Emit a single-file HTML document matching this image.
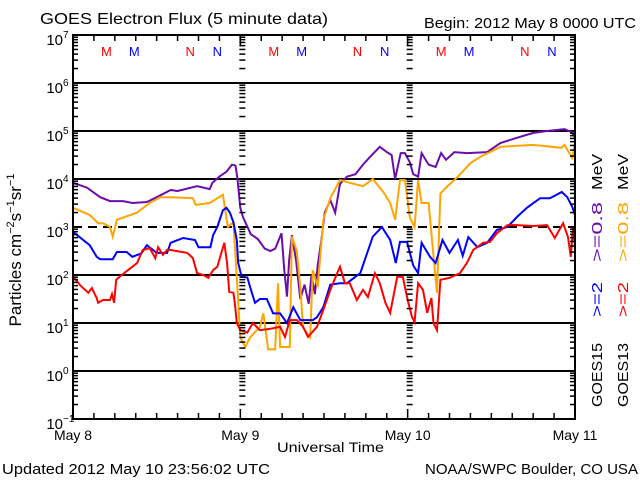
<!DOCTYPE html>
<html><head><meta charset="utf-8">
<style>
html,body{margin:0;padding:0;background:#fff;}
svg{display:block;font-family:"Liberation Sans","DejaVu Sans",sans-serif;}
</style></head>
<body>
<svg id="chart" width="640" height="480" viewBox="0 0 640 480" xmlns="http://www.w3.org/2000/svg">
<rect width="640" height="480" fill="#fff"/>
<text x="40" y="24" font-size="16" textLength="288" lengthAdjust="spacingAndGlyphs">GOES Electron Flux (5 minute data)</text>
<text x="424" y="28" font-size="15" textLength="212" lengthAdjust="spacingAndGlyphs">Begin: 2012 May 8 0000 UTC</text>
<text x="2" y="474" font-size="15" textLength="268" lengthAdjust="spacingAndGlyphs">Updated 2012 May 10 23:56:02 UTC</text>
<text x="425" y="474" font-size="15" textLength="213" lengthAdjust="spacingAndGlyphs">NOAA/SWPC Boulder, CO USA</text>
<text x="277" y="452" font-size="14" textLength="107" lengthAdjust="spacingAndGlyphs">Universal Time</text>
<text transform="translate(21,250) rotate(-90)" text-anchor="middle" font-size="17">Particles cm<tspan font-size="11" dy="-7">−2</tspan><tspan dy="7">s</tspan><tspan font-size="11" dy="-7">−1</tspan><tspan dy="7">sr</tspan><tspan font-size="11" dy="-7">−1</tspan></text>
<g id="legend" font-size="15">
  <text transform="translate(602,407) rotate(-90)" textLength="64" lengthAdjust="spacingAndGlyphs">GOES15</text>
  <text transform="translate(602,317) rotate(-90)" fill="#0000ff" textLength="35" lengthAdjust="spacingAndGlyphs">&gt;=2</text>
  <text transform="translate(602,262) rotate(-90)" fill="#6a0dad" textLength="60" lengthAdjust="spacingAndGlyphs">&gt;=0.8</text>
  <text transform="translate(602,190) rotate(-90)" textLength="36" lengthAdjust="spacingAndGlyphs">MeV</text>
  <text transform="translate(628,407) rotate(-90)" textLength="64" lengthAdjust="spacingAndGlyphs">GOES13</text>
  <text transform="translate(628,317) rotate(-90)" fill="#ff0000" textLength="35" lengthAdjust="spacingAndGlyphs">&gt;=2</text>
  <text transform="translate(628,262) rotate(-90)" fill="#ffa500" textLength="60" lengthAdjust="spacingAndGlyphs">&gt;=0.8</text>
  <text transform="translate(628,190) rotate(-90)" textLength="36" lengthAdjust="spacingAndGlyphs">MeV</text>
</g>
<g id="grid"></g>
<g id="series"></g>
<g id="axes"></g>
</svg>
<script>
// Data (hours since May 8 00:00 UTC, log10 flux)
const dayLabels = ["May 8","May 9","May 10","May 11"];
const yExponents = [7,6,5,4,3,2,1,0,-1];
const markerHours = [4.8,8.8,16.8,20.7];
const markerLetters = ["M","M","N","N"];
const markerColors = ["#ff0000","#0000ff","#ff0000","#0000ff"];

const purpleHours = [0,2,3.9,5.3,7.2,8.5,10.6,12,14,15,17.8,19.6,20,21,22,22.8,23.3,23.6,24,24.4,25.5,26.5,27.5,28.3,29,29.9,30.3,30.7,31,31.4,32,32.6,33.2,33.8,34.2,34.7,35.1,35.6,36.1,36.9,37.6,38.3,39.3,40.5,41.6,42.6,44,45,45.7,46.2,47,47.6,48.3,48.8,49.5,50,51,52,52.8,53.5,54.7,56.5,59.4,61.3,63.5,66,68,70.5,71.5,72];
const purpleLog = [3.92,3.82,3.62,3.54,3.54,3.5,3.52,3.62,3.77,3.75,3.85,3.79,3.92,4.05,4.15,4.3,4.28,4.0,3.4,3.2,2.85,2.75,2.55,2.5,2.55,2.87,2.1,1.55,2.3,2.83,2.3,1.5,1.8,1.4,2.0,1.6,2.2,2.7,3.3,3.56,3.3,3.9,4.05,4.1,4.3,4.46,4.67,4.56,4.5,4.0,4.54,4.54,4.35,4.1,4.05,4.54,4.3,4.25,4.54,4.4,4.56,4.54,4.56,4.75,4.85,4.96,5.0,5.04,4.98,4.87];

const orangeHours = [0,2.4,3.6,4.3,5.3,5.7,6.3,9.2,11,12.5,14,17.2,17.6,19.6,21.5,22.2,23,23.5,24,24.7,25.4,26.8,27.3,28,29,29.4,29.7,31.1,31.4,32.1,32.6,33,34,34.4,35.1,35.9,36.9,38.3,39.7,41.6,43,44.5,45.5,46.2,46.9,47.6,48.3,49,49.5,50,51,51.7,52.2,52.7,53.7,55,57,58.4,61.3,66,70,70.5,71.6,72];
const orangeLog = [3.4,3.25,3.08,3.08,3.0,2.8,3.15,3.3,3.5,3.62,3.62,3.6,3.46,3.5,3.67,3.0,3.1,1.96,0.7,0.5,0.7,0.92,1.2,0.45,0.45,1.83,0.5,0.5,2.8,2.5,1.75,0.9,0.7,2.1,1.75,3.15,3.6,3.98,3.92,3.85,4.0,3.73,3.5,3.15,3.98,3.98,3.2,3.0,3.98,3.5,3.5,2.4,1.63,3.7,3.85,4.02,4.33,4.46,4.67,4.71,4.65,4.71,4.44,4.75];

const blueHours = [0,2.4,3.4,3.9,5.7,6.3,7.7,8.5,9.8,10.6,12,13.5,14,15.8,17.5,18,19.7,20.1,20.7,21.5,22,22.5,23,23.5,23.7,24.2,25,25.4,26.1,26.8,27.8,28.7,29.7,30.7,31.6,32.6,34.4,35,35.9,36.9,38.3,39.3,41.2,42.2,43,44.3,45.5,46.3,46.9,47.9,48.8,49.5,50,51.2,52,53,54,55.2,55.9,56.7,58,59.4,60.8,62.3,63.7,65.1,67,68.4,70.1,70.9,71.6,72];
const blueLog = [2.9,2.62,2.38,2.33,2.33,2.48,2.48,2.38,2.45,2.62,2.46,2.46,2.67,2.77,2.73,2.58,2.58,2.83,3.0,3.35,3.4,3.3,3.1,2.73,2.25,1.96,1.95,1.75,1.42,1.5,1.5,1.2,1.2,1.0,1.33,1.06,1.06,1.12,1.33,1.8,1.83,1.83,2.04,2.46,2.8,3.0,2.73,2.25,2.69,2.69,2.2,2.04,2.67,2.38,2.25,2.73,2.46,2.73,2.4,2.79,2.58,2.67,2.94,3.0,3.21,3.4,3.6,3.6,3.73,3.62,3.42,3.25];

const redHours = [0,1,2.2,2.7,3.4,3.6,4.3,5.3,5.6,5.9,6.2,7,9.2,10,11,11.8,12.2,12.9,13.5,14,16.4,17.2,17.8,18.7,19.4,20.1,20.7,21.4,21.7,22.1,22.4,23,23.2,23.5,24,25,25.8,26.8,28.3,29.7,30.4,31.1,32.1,33,33.7,35,35.9,36.9,37.9,38.3,39,39.7,40.7,41.6,42.3,43.3,44,44.8,45.5,46.5,47.3,48,48.6,49,49.5,50.2,50.8,51.4,51.7,52.2,52.7,54,55.5,56.5,57.4,58.8,59.8,60.8,62.3,63.7,66,68,69.1,70.3,71,71.4,71.7,72];
const redLog = [1.98,1.79,1.63,1.73,1.52,1.42,1.48,1.48,1.6,1.42,1.9,2.0,2.25,2.52,2.56,2.35,2.58,2.42,2.52,2.52,2.46,2.35,2.04,2.0,1.94,2.1,2.17,2.52,2.67,2.25,1.65,1.63,1.42,1.0,0.85,0.8,1.0,0.85,0.88,0.92,0.71,1.06,1.06,0.92,0.71,0.92,1.27,1.69,2.04,2.17,1.83,1.83,1.48,1.69,1.54,2.04,1.83,1.42,1.21,1.96,1.96,1.48,1.13,1.02,1.83,1.69,1.21,1.52,1.0,0.85,1.9,1.94,2.04,2.25,2.52,2.67,2.69,2.87,3.04,3.04,3.02,3.04,2.77,3.08,2.79,2.38,2.98,2.6];

const NS = "http://www.w3.org/2000/svg";
const X0 = 73, X1 = 575, Y_TOP = 35, Y_BOT = 419;
const LOG_MIN = -1, LOG_MAX = 7, HOURS = 72;
function xScale(h){ return X0 + h * (X1 - X0) / HOURS; }
function yScale(l){ return Y_BOT - (l - LOG_MIN) * (Y_BOT - Y_TOP) / (LOG_MAX - LOG_MIN); }
function mk(tag, attrs, parent){ const e = document.createElementNS(NS, tag); for (const k in attrs) e.setAttribute(k, attrs[k]); parent.appendChild(e); return e; }

const grid = document.getElementById('grid');
const axes = document.getElementById('axes');
const series = document.getElementById('series');

// decade grid lines
yExponents.forEach(function(ex){
  if (ex === LOG_MAX || ex === LOG_MIN) return;
  const y = yScale(ex);
  const ln = mk('line', {x1:X0, x2:X1, y1:y, y2:y, stroke:'#000', 'stroke-width':2}, grid);
  if (ex === 3) ln.setAttribute('stroke-dasharray', '9,6');
  
  
});

// data lines
const clip = mk('clipPath', {id:'plotclip'}, document.getElementById('chart'));
mk('rect', {x:X0, y:Y_TOP, width:X1-X0, height:Y_BOT-Y_TOP}, clip);
series.setAttribute('clip-path', 'url(#plotclip)');
function drawSeries(hours, logs, color, name){
  const pts = hours.map(function(h, i){ return xScale(h).toFixed(1) + ',' + yScale(logs[i]).toFixed(1); }).join(' ');
  const pl = mk('polyline', {points:pts, fill:'none', stroke:color, 'stroke-width':2, 'stroke-linejoin':'miter'}, series);
  
  
}
drawSeries(purpleHours, purpleLog, '#6a0dad', 'series-goes15-ge08mev');
drawSeries(orangeHours, orangeLog, '#ffa500', 'series-goes13-ge08mev');
drawSeries(blueHours, blueLog, '#0000ff', 'series-goes15-ge2mev');
drawSeries(redHours, redLog, '#ff0000', 'series-goes13-ge2mev');

// frame
const frame = mk('rect', {x:X0, y:Y_TOP, width:X1-X0, height:Y_BOT-Y_TOP, fill:'none', stroke:'#000', 'stroke-width':2}, axes);



// y ticks (minor log ticks) on left, right and at day boundaries
const tickCols = [{x:X0, dir:1, len:5},{x:X1, dir:-1, len:5},{x:xScale(24), dir:1, len:6},{x:xScale(48), dir:1, len:6}];
for (let d = LOG_MIN; d < LOG_MAX; d++) {
  for (let m = 2; m <= 9; m++) {
    const y = yScale(d + Math.log10(m));
    tickCols.forEach(function(c){
      const x0 = c.x === xScale(24) || c.x === xScale(48) ? c.x - 1 : c.x;
      mk('line', {x1:x0, x2:x0 + c.dir*c.len, y1:y, y2:y, stroke:'#000', 'stroke-width':1.5}, axes);
    });
  }
}
// y tick labels
yExponents.forEach(function(ex){
  const y = yScale(ex);
  const t = mk('text', {x:63, y:y + 10, 'font-size':15, 'text-anchor':'end'}, axes);
  t.textContent = '10';
  
  
  const s = mk('text', {x:63, y:y + 3, 'font-size':10}, axes);
  s.textContent = ex < 0 ? '−' + (-ex) : String(ex);
  
  
});
// x ticks every 3 hours
for (let h = 3; h < HOURS; h += 3) {
  const x = xScale(h);
  const big = h % 24 === 0;
  mk('line', {x1:x, x2:x, y1:Y_BOT, y2:Y_BOT - (big ? 10 : 6), stroke:'#000', 'stroke-width':1.5}, axes);
  mk('line', {x1:x, x2:x, y1:Y_TOP, y2:Y_TOP + (big ? 10 : 6), stroke:'#000', 'stroke-width':1.5}, axes);
}
dayLabels.forEach(function(lbl, i){
  const t = mk('text', {x:xScale(i*24), y:440, 'font-size':14, 'text-anchor':'middle'}, axes);
  t.textContent = lbl;
  
  
});
// M / N markers per day
for (let d = 0; d < 3; d++) {
  markerHours.forEach(function(h, i){
    const t = mk('text', {x:xScale(d*24 + h), y:56, 'font-size':13, 'text-anchor':'middle', fill:markerColors[i]}, axes);
    t.textContent = markerLetters[i];
    
    
  });
}
</script>
</body></html>
